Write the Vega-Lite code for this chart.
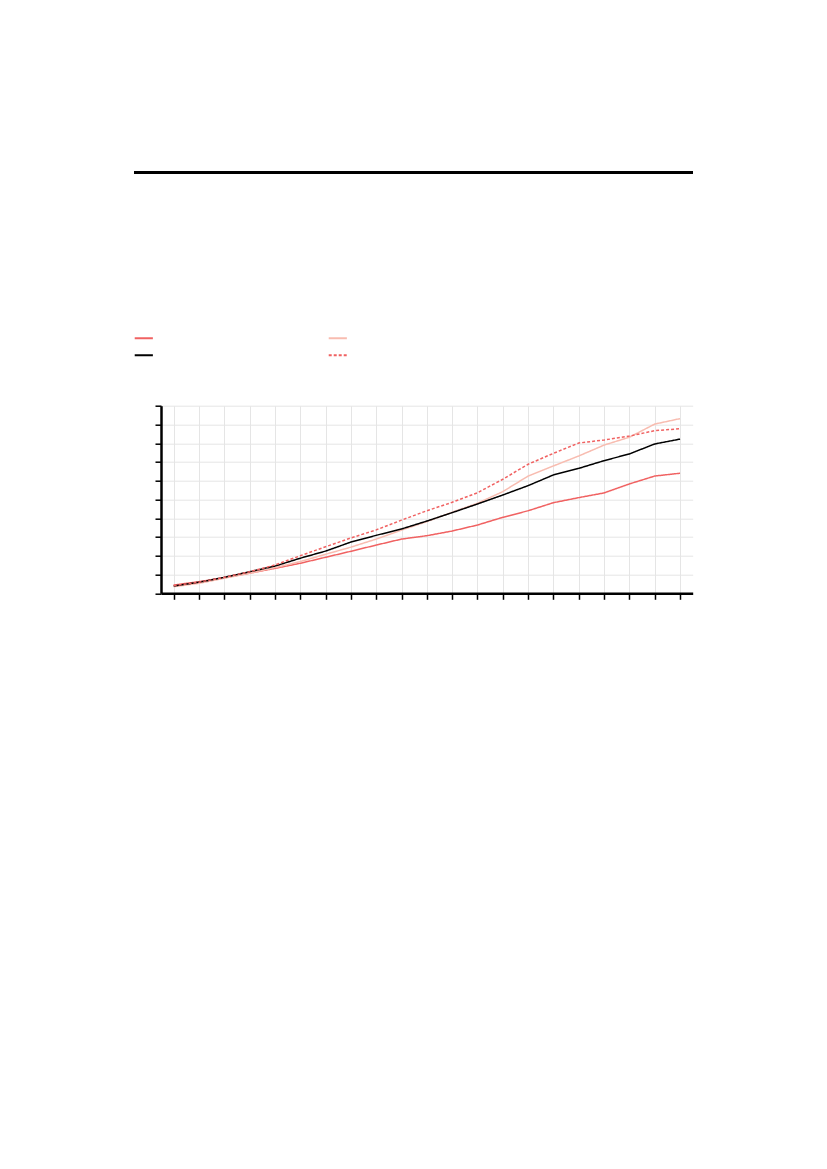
{
  "$schema": "https://vega.github.io/schema/vega-lite/v6.json",
  "width": 531.7,
  "height": 187.6,
  "autosize": {"type": "none"},
  "padding": {"left": 161, "top": 405.7, "right": 134, "bottom": 575},
  "background": "white",
  "config": {
    "view": {"stroke": null},
    "axis": {
      "title": null, "labels": false, "grid": true,
      "domainColor": "black", "domainWidth": 2.5,
      "tickColor": "black", "tickWidth": 1.5, "tickSize": 6,
      "gridColor": "#e5e5e5", "gridWidth": 1
    }
  },
  "data": {
    "values": [
      {"i": 0, "s": "a", "v": 0.44}, {"i": 1, "s": "a", "v": 0.62}, {"i": 2, "s": "a", "v": 0.83},
      {"i": 3, "s": "a", "v": 1.07}, {"i": 4, "s": "a", "v": 1.33}, {"i": 5, "s": "a", "v": 1.6},
      {"i": 6, "s": "a", "v": 1.92}, {"i": 7, "s": "a", "v": 2.24}, {"i": 8, "s": "a", "v": 2.57},
      {"i": 9, "s": "a", "v": 2.89}, {"i": 10, "s": "a", "v": 3.07}, {"i": 11, "s": "a", "v": 3.32},
      {"i": 12, "s": "a", "v": 3.64}, {"i": 13, "s": "a", "v": 4.05}, {"i": 14, "s": "a", "v": 4.4},
      {"i": 15, "s": "a", "v": 4.83}, {"i": 16, "s": "a", "v": 5.1}, {"i": 17, "s": "a", "v": 5.35},
      {"i": 18, "s": "a", "v": 5.83}, {"i": 19, "s": "a", "v": 6.25}, {"i": 20, "s": "a", "v": 6.4},

      {"i": 0, "s": "b", "v": 0.35}, {"i": 1, "s": "b", "v": 0.53}, {"i": 2, "s": "b", "v": 0.8},
      {"i": 3, "s": "b", "v": 1.07}, {"i": 4, "s": "b", "v": 1.37}, {"i": 5, "s": "b", "v": 1.69},
      {"i": 6, "s": "b", "v": 2.08}, {"i": 7, "s": "b", "v": 2.46}, {"i": 8, "s": "b", "v": 2.89},
      {"i": 9, "s": "b", "v": 3.37}, {"i": 10, "s": "b", "v": 3.82}, {"i": 11, "s": "b", "v": 4.32},
      {"i": 12, "s": "b", "v": 4.8}, {"i": 13, "s": "b", "v": 5.42}, {"i": 14, "s": "b", "v": 6.25},
      {"i": 15, "s": "b", "v": 6.79}, {"i": 16, "s": "b", "v": 7.32}, {"i": 17, "s": "b", "v": 7.9},
      {"i": 18, "s": "b", "v": 8.32}, {"i": 19, "s": "b", "v": 9.02}, {"i": 20, "s": "b", "v": 9.31},

      {"i": 0, "s": "c", "v": 0.39}, {"i": 1, "s": "c", "v": 0.59}, {"i": 2, "s": "c", "v": 0.85},
      {"i": 3, "s": "c", "v": 1.15}, {"i": 4, "s": "c", "v": 1.45}, {"i": 5, "s": "c", "v": 1.87},
      {"i": 6, "s": "c", "v": 2.25}, {"i": 7, "s": "c", "v": 2.73}, {"i": 8, "s": "c", "v": 3.09},
      {"i": 9, "s": "c", "v": 3.43}, {"i": 10, "s": "c", "v": 3.85}, {"i": 11, "s": "c", "v": 4.3},
      {"i": 12, "s": "c", "v": 4.76}, {"i": 13, "s": "c", "v": 5.24}, {"i": 14, "s": "c", "v": 5.74},
      {"i": 15, "s": "c", "v": 6.31}, {"i": 16, "s": "c", "v": 6.66}, {"i": 17, "s": "c", "v": 7.07},
      {"i": 18, "s": "c", "v": 7.43}, {"i": 19, "s": "c", "v": 7.96}, {"i": 20, "s": "c", "v": 8.22},

      {"i": 0, "s": "d", "v": 0.41}, {"i": 1, "s": "d", "v": 0.59}, {"i": 2, "s": "d", "v": 0.85},
      {"i": 3, "s": "d", "v": 1.15}, {"i": 4, "s": "d", "v": 1.51}, {"i": 5, "s": "d", "v": 2.0},
      {"i": 6, "s": "d", "v": 2.48}, {"i": 7, "s": "d", "v": 2.95}, {"i": 8, "s": "d", "v": 3.38},
      {"i": 9, "s": "d", "v": 3.9}, {"i": 10, "s": "d", "v": 4.4}, {"i": 11, "s": "d", "v": 4.85},
      {"i": 12, "s": "d", "v": 5.36}, {"i": 13, "s": "d", "v": 6.08}, {"i": 14, "s": "d", "v": 6.88},
      {"i": 15, "s": "d", "v": 7.46}, {"i": 16, "s": "d", "v": 8.01}, {"i": 17, "s": "d", "v": 8.17},
      {"i": 18, "s": "d", "v": 8.38}, {"i": 19, "s": "d", "v": 8.67}, {"i": 20, "s": "d", "v": 8.77}
    ]
  },
  "layer": [
    {
      "mark": {"type": "line", "strokeWidth": 1.5},
      "encoding": {
        "x": {
          "field": "i", "type": "quantitative",
          "scale": {"domain": [-0.5, 20.5], "nice": false, "zero": false},
          "axis": {"values": [0, 1, 2, 3, 4, 5, 6, 7, 8, 9, 10, 11, 12, 13, 14, 15, 16, 17, 18, 19, 20]}
        },
        "y": {
          "field": "v", "type": "quantitative",
          "scale": {"domain": [0, 10], "nice": false},
          "axis": {"values": [0, 1, 2, 3, 4, 5, 6, 7, 8, 9, 10]}
        },
        "color": {
          "field": "s", "type": "nominal",
          "scale": {"domain": ["a", "b", "c", "d"], "range": ["#f06262", "#f8bcb0", "#000000", "#f06262"]},
          "legend": {
            "orient": "none", "legendX": -27.7, "legendY": -78.3,
            "direction": "horizontal", "columns": 2,
            "title": null, "labelExpr": "''", "labelFontSize": 1, "labelOffset": 0,
            "symbolType": "stroke", "symbolSize": 330, "symbolStrokeWidth": 2,
            "columnPadding": 167, "rowPadding": 2.3
          }
        },
        "strokeDash": {
          "field": "s", "type": "nominal",
          "scale": {"domain": ["a", "b", "c", "d"], "range": [[1, 0], [1, 0], [1, 0], [3, 2]]},
          "legend": {
            "orient": "none", "legendX": -27.7, "legendY": -78.3,
            "direction": "horizontal", "columns": 2,
            "title": null, "labelExpr": "''", "labelFontSize": 1, "labelOffset": 0,
            "symbolType": "stroke", "symbolSize": 330, "symbolStrokeWidth": 2,
            "columnPadding": 167, "rowPadding": 2.3
          }
        },
        "order": {"field": "i", "type": "quantitative"}
      }
    },
    {
      "mark": {"type": "rule", "color": "black", "strokeWidth": 2},
      "encoding": {
        "x": {
          "datum": -1.55, "type": "quantitative",
          "axis": {"values": [0, 1, 2, 3, 4, 5, 6, 7, 8, 9, 10, 11, 12, 13, 14, 15, 16, 17, 18, 19, 20]}
        },
        "x2": {"datum": 20.5},
        "y": {
          "datum": 22.42, "type": "quantitative",
          "axis": {"values": [0, 1, 2, 3, 4, 5, 6, 7, 8, 9, 10]}
        }
      }
    }
  ]
}
